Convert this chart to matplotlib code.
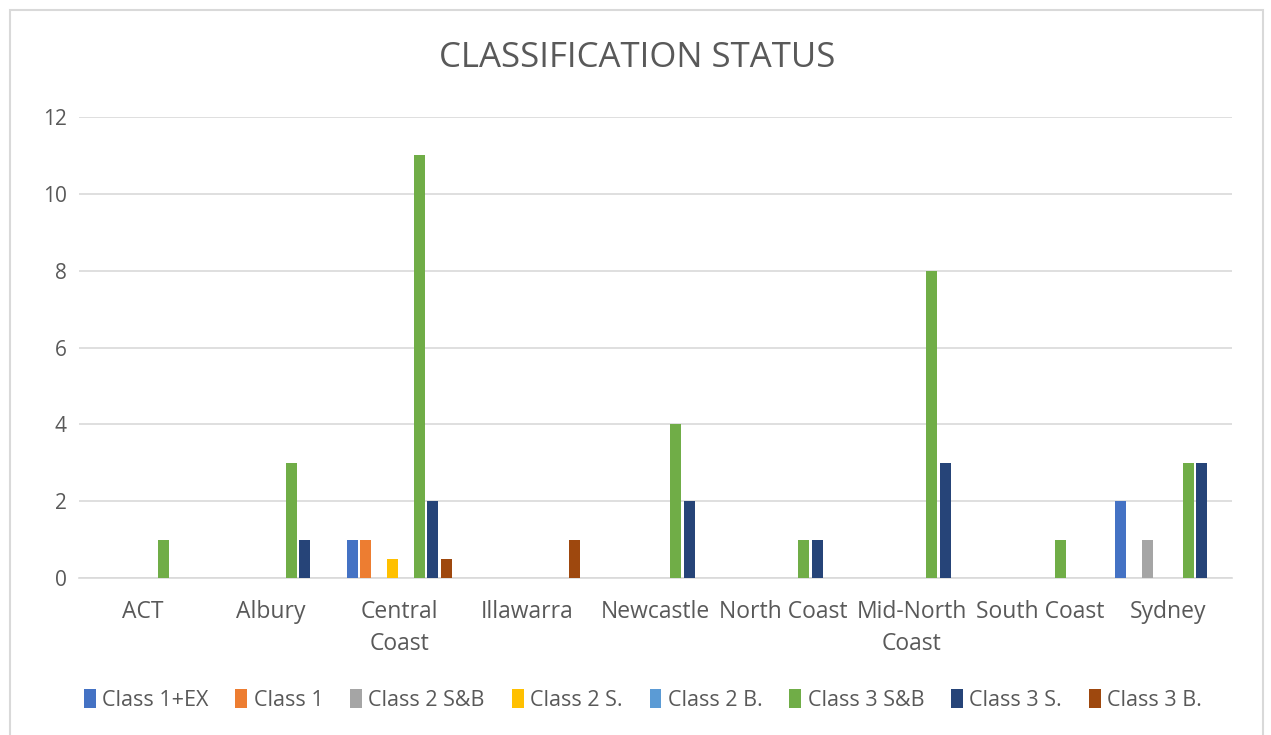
import numpy as np
import matplotlib
matplotlib.use("Agg")
import matplotlib.pyplot as plt
from matplotlib.patches import Rectangle

regions = ["ACT", "Albury", "Central\nCoast", "Illawarra", "Newcastle",
           "North Coast", "Mid-North\nCoast", "South Coast", "Sydney"]
series = ["Class 1+EX", "Class 1", "Class 2 S&B", "Class 2 S.",
          "Class 2 B.", "Class 3 S&B", "Class 3 S.", "Class 3 B."]
class1ex = [0, 0, 1, 0, 0, 0, 0, 0, 2]
class1 = [0, 0, 1, 0, 0, 0, 0, 0, 0]
class2sb = [0, 0, 0, 0, 0, 0, 0, 0, 1]
class2s = [0, 0, 0.5, 0, 0, 0, 0, 0, 0]
class2b = [0, 0, 0, 0, 0, 0, 0, 0, 0]
class3sb = [1, 3, 11, 0, 4, 1, 8, 1, 3]
class3s = [0, 1, 2, 0, 2, 1, 3, 0, 3]
class3b = [0, 0, 0.5, 1, 0, 0, 0, 0, 0]
yticks = [0, 2, 4, 6, 8, 10, 12]

colors = ["#4472C4", "#ED7D31", "#A5A5A5", "#FFC000",
          "#5B9BD5", "#70AD47", "#264478", "#9E480E"]
values = [class1ex, class1, class2sb, class2s, class2b, class3sb, class3s, class3b]

plt.rcParams['font.family'] = ['Open Sans', 'DejaVu Sans']
txt = "#595959"

fig = plt.figure(figsize=(12.71, 7.35), dpi=100)
fig.patches.append(Rectangle((10 / 1271, -0.01), 1253 / 1271, 1 - 10 / 735 + 0.01,
                             transform=fig.transFigure, fill=False,
                             edgecolor="#D9D9D9", linewidth=1.5))

ax = fig.add_axes([79 / 1271, 1 - 578 / 735, (1232 - 79) / 1271, (578 - 117) / 735])
x = np.arange(len(regions))
step = 0.105
for j, (name, vals) in enumerate(zip(series, values)):
    ax.bar(x + (j - 3.5) * step, vals, width=0.086, color=colors[j], label=name, zorder=3)

ax.set_xlim(-0.5, len(regions) - 0.5)
ax.set_ylim(0, 12)
ax.set_yticks(yticks)
ax.yaxis.grid(True, color="#D9D9D9", linewidth=1.2, zorder=0)
for s in ["top", "right", "left"]:
    ax.spines[s].set_visible(False)
ax.spines["bottom"].set_color("#D9D9D9")
ax.spines["bottom"].set_linewidth(1.2)
ax.tick_params(length=0, labelcolor=txt)
ax.tick_params(axis="y", pad=9, labelsize=15)
ax.tick_params(axis="x", pad=16, labelsize=16.5)
ax.set_xticks(x)
ax.set_xticklabels(regions, linespacing=1.45)

fig.text(637 / 1271, 1 - 58 / 735, "CLASSIFICATION STATUS", ha="center", va="center",
         fontsize=25, color=txt)

fig.legend(loc="center", bbox_to_anchor=(643 / 1271, 1 - 700 / 735), ncol=8,
           frameon=False, fontsize=15.5, labelcolor=txt, handlelength=0.55,
           handleheight=1.0, handletextpad=0.3, columnspacing=1.25)

fig.savefig("out.png", dpi=100)
